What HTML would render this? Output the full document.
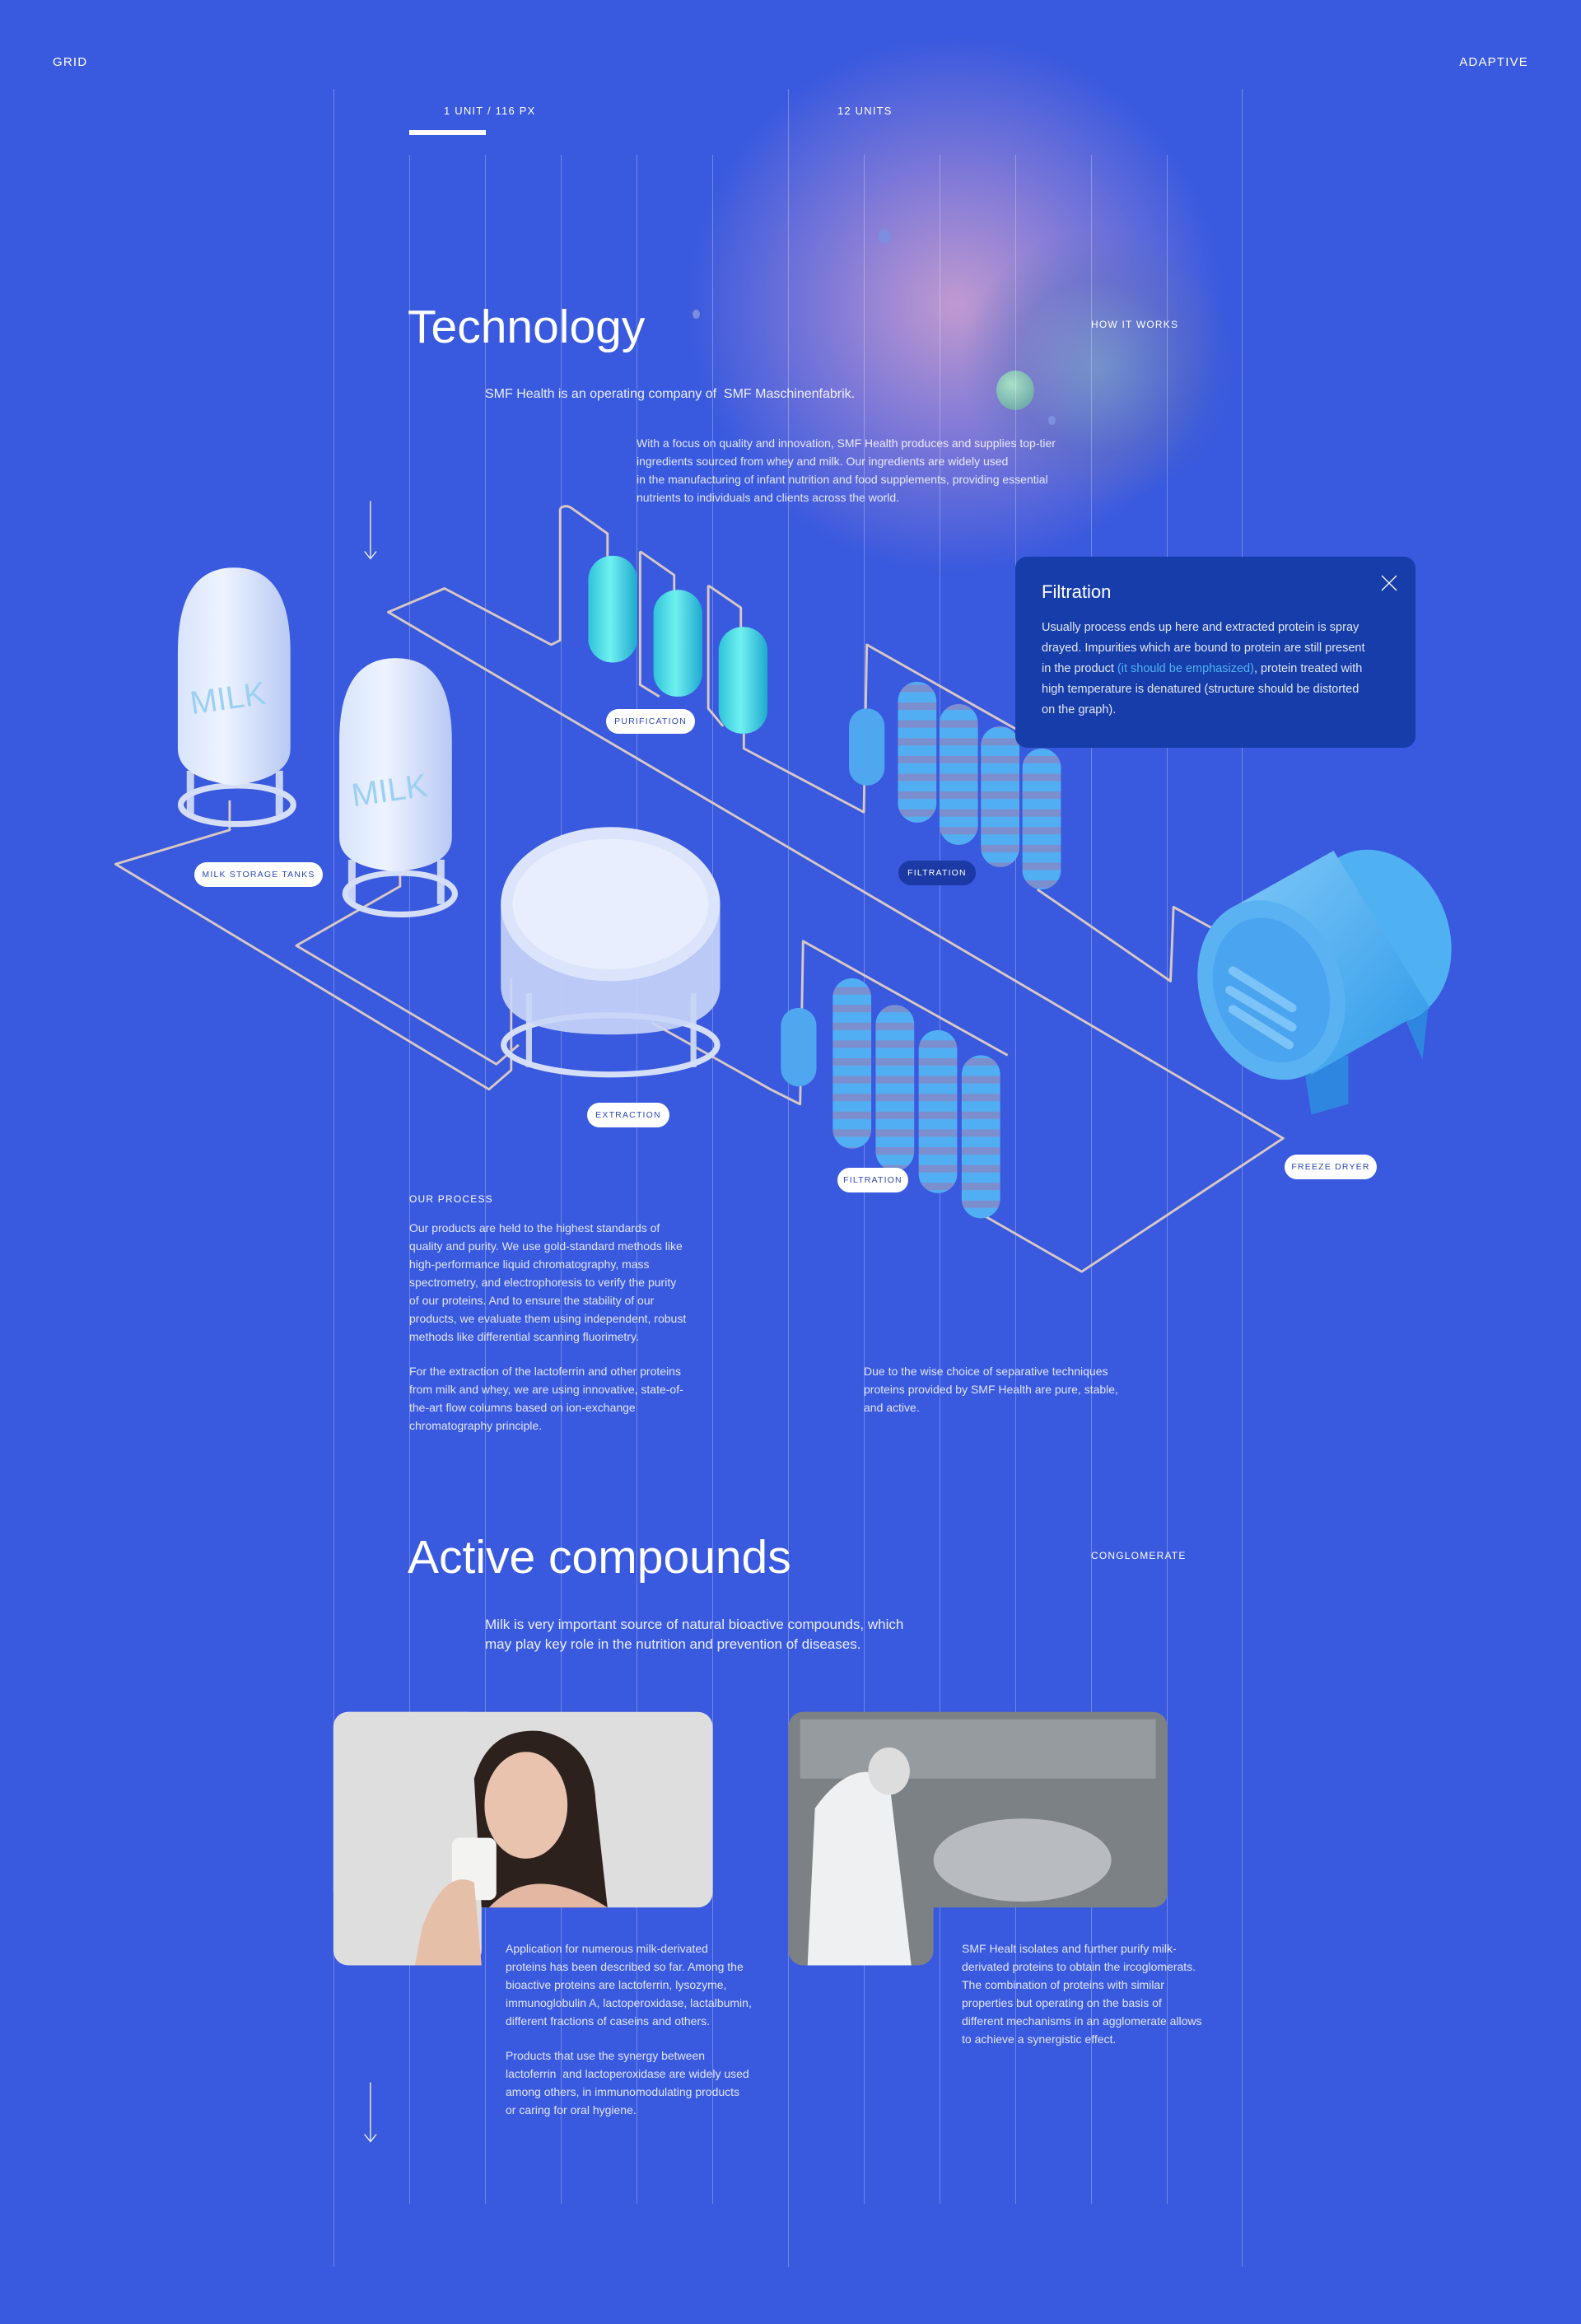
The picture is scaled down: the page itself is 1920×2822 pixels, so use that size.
<!DOCTYPE html>
<html><head><meta charset="utf-8"><style>
*{margin:0;padding:0;box-sizing:border-box}
body{width:1920px;height:2822px;background:#3959de;position:relative;overflow:hidden;font-family:"Liberation Sans",sans-serif;color:#fff}
.a{position:absolute;white-space:nowrap}
.gl{position:absolute;width:1px;background:rgba(255,255,255,0.28)}
.sm{font-size:13px;letter-spacing:1.2px}
.p{font-size:14px;line-height:22px;color:rgba(255,255,255,0.85)}
.pill{position:absolute;height:30px;border-radius:15px;background:#fff;color:#2d47b8;font-size:10.5px;letter-spacing:1.2px;display:flex;align-items:center;justify-content:center}
</style></head><body>
<div class="a" style="left:830px;top:40px;width:660px;height:660px;border-radius:50%;background:radial-gradient(circle,rgba(215,165,205,0.85) 0%,rgba(180,145,210,0.55) 35%,rgba(58,89,222,0) 70%)"></div>
<div class="a" style="left:1170px;top:280px;width:330px;height:330px;border-radius:50%;background:radial-gradient(circle,rgba(120,170,190,0.55) 0%,rgba(90,110,190,0.4) 45%,rgba(58,89,222,0) 72%)"></div>
<div class="a" style="left:1210px;top:450px;width:46px;height:48px;border-radius:50%;background:radial-gradient(circle at 40% 35%,#a8e0c8,#5f9aa0)"></div>
<div class="a" style="left:1066px;top:278px;width:16px;height:18px;border-radius:50%;background:#7d8de0"></div>
<div class="a" style="left:841px;top:376px;width:9px;height:11px;border-radius:50%;background:#7d8de0"></div>
<div class="a" style="left:1273px;top:505px;width:9px;height:11px;border-radius:50%;background:#7d8de0"></div>

<div class="gl" style="left:405px;top:108px;height:2645px"></div>
<div class="gl" style="left:957px;top:108px;height:2645px"></div>
<div class="gl" style="left:1508px;top:108px;height:2645px"></div>
<div class="gl" style="left:497px;top:188px;height:2488px"></div>
<div class="gl" style="left:589px;top:188px;height:2488px"></div>
<div class="gl" style="left:681px;top:188px;height:2488px"></div>
<div class="gl" style="left:773px;top:188px;height:2488px"></div>
<div class="gl" style="left:865px;top:188px;height:2488px"></div>
<div class="gl" style="left:1049px;top:188px;height:2488px"></div>
<div class="gl" style="left:1141px;top:188px;height:2488px"></div>
<div class="gl" style="left:1233px;top:188px;height:2488px"></div>
<div class="gl" style="left:1325px;top:188px;height:2488px"></div>
<div class="gl" style="left:1417px;top:188px;height:2488px"></div>

<div class="a sm" style="left:64px;top:67px;font-size:15px">GRID</div>
<div class="a sm" style="right:64px;top:67px;font-size:15px">ADAPTIVE</div>
<div class="a sm" style="left:539px;top:127px">1 UNIT / 116 PX</div>
<div class="a" style="left:497px;top:158px;width:93px;height:6px;background:#fff"></div>
<div class="a sm" style="left:1017px;top:127px">12 UNITS</div>
<div class="a sm" style="left:1325px;top:387px;font-size:12px">HOW IT WORKS</div>
<div class="a" style="left:495px;top:364px;font-size:57px">Technology</div>
<div class="a" style="left:589px;top:470px;font-size:16px;color:rgba(255,255,255,0.9)">SMF Health is an operating company of&nbsp; SMF Maschinenfabrik.</div>
<div class="a p" style="left:773px;top:527px">With a focus on quality and innovation, SMF Health produces and supplies top-tier<br>ingredients sourced from whey and milk. Our ingredients are widely used<br>in the manufacturing of infant nutrition and food supplements, providing essential<br>nutrients to individuals and clients across the world.</div>

<svg class="a" style="left:0;top:0" width="1920" height="2822" viewBox="0 0 1067 1568" preserveAspectRatio="none">
<defs>
<linearGradient id="tank" x1="0" x2="1"><stop offset="0" stop-color="#d8e4fb"/><stop offset=".4" stop-color="#eef3ff"/><stop offset="1" stop-color="#b9c9f3"/></linearGradient>
<linearGradient id="cap" x1="0" x2="1"><stop offset="0" stop-color="#2fc3d8"/><stop offset=".45" stop-color="#6ff0f0"/><stop offset="1" stop-color="#1fa9cf"/></linearGradient>
<pattern id="str" width="26" height="12" patternUnits="userSpaceOnUse"><rect width="26" height="12" fill="#52aef3"/><rect y="6" width="26" height="5" fill="#7b8fcf"/></pattern>
<linearGradient id="fd" x1="0" x2="1" y1="0" y2="1"><stop offset="0" stop-color="#7fc8f8"/><stop offset="1" stop-color="#2f9ae8"/></linearGradient>
</defs>
<line x1="250" y1="338" x2="250" y2="376" stroke="#fff" stroke-width=".7"/><path d="M246 372 L250 377 L254 372" fill="none" stroke="#fff" stroke-width=".7"/>
<line x1="250" y1="1405" x2="250" y2="1444" stroke="#fff" stroke-width=".7"/><path d="M246 1440 L250 1445 L254 1440" fill="none" stroke="#fff" stroke-width=".7"/>
<g fill="none" stroke="#d9c9c4" stroke-width="1.6" stroke-linejoin="round">
<path d="M378 343 L378 432 L372 435 L300 397 L262 413 L866 768 L730 858 L655 815"/>
<path d="M378 343 Q382 340 386 343 L410 360 L410 378"/>
<path d="M432 372 L432 462 L445 470"/><path d="M432 372 L455 388 L455 400"/>
<path d="M478 395 L478 478 L488 490"/><path d="M478 395 L500 410 L500 425"/>
<path d="M502 495 L502 505 L583 548 L585 435 L700 500"/>
<path d="M155 540 L155 560 L78 583 L330 735 L345 722 L345 660"/>
<path d="M270 585 L270 598 L200 638 L335 718 L350 705"/>
<path d="M440 690 L520 735 L540 745 L542 635 L680 712"/>
<path d="M700 600 L790 662 L792 612 L825 630"/>
<path d="M655 815 L650 780"/>
</g>
<g>
<rect x="126" y="520" width="5" height="30" fill="#c7d3f5"/><rect x="186" y="520" width="5" height="30" fill="#c7d3f5"/>
<ellipse cx="160" cy="543" rx="38" ry="13" fill="none" stroke="#d5def8" stroke-width="4"/>
<path d="M120 440 Q120 383 158 383 Q196 383 196 440 L196 505 Q196 525 158 530 Q120 525 120 505Z" fill="url(#tank)"/>
<text x="128" y="478" font-family="Liberation Sans" font-size="22" fill="#9cd0f3" transform="rotate(-8 157 470)">MILK</text>
<rect x="235" y="580" width="5" height="30" fill="#c7d3f5"/><rect x="295" y="580" width="5" height="30" fill="#c7d3f5"/>
<ellipse cx="270" cy="603" rx="37" ry="14" fill="none" stroke="#d5def8" stroke-width="4"/>
<path d="M229 500 Q229 444 267 444 Q305 444 305 500 L305 565 Q305 585 267 588 Q229 585 229 565Z" fill="url(#tank)"/>
<text x="237" y="540" font-family="Liberation Sans" font-size="22" fill="#9cd0f3" transform="rotate(-8 267 532)">MILK</text>
</g>
<rect x="355" y="670" width="4" height="50" fill="#c7d3f5"/><rect x="466" y="670" width="4" height="50" fill="#c7d3f5"/>
<ellipse cx="412" cy="705" rx="72" ry="20" fill="none" stroke="#d5def8" stroke-width="4"/>
<path d="M338 610 L338 665 Q338 698 412 698 Q486 698 486 665 L486 610Z" fill="#c9d5f7" opacity=".9"/>
<ellipse cx="412" cy="610" rx="74" ry="52" fill="#dbe4fb"/>
<ellipse cx="412" cy="610" rx="66" ry="44" fill="#e8eefd"/>
<rect x="397" y="375" width="33" height="72" rx="16" fill="url(#cap)"/>
<rect x="441" y="398" width="33" height="72" rx="16" fill="url(#cap)"/>
<rect x="485" y="423" width="33" height="72" rx="16" fill="url(#cap)"/>
<rect x="573" y="478" width="24" height="52" rx="12" fill="#4fa8ef"/>
<rect x="606" y="460" width="26" height="95" rx="13" fill="url(#str)"/>
<rect x="634" y="475" width="26" height="95" rx="13" fill="url(#str)"/>
<rect x="662" y="490" width="26" height="95" rx="13" fill="url(#str)"/>
<rect x="690" y="505" width="26" height="95" rx="13" fill="url(#str)"/>
<rect x="527" y="680" width="24" height="53" rx="12" fill="#4fa8ef"/>
<rect x="562" y="660" width="26" height="115" rx="13" fill="url(#str)"/>
<rect x="591" y="678" width="26" height="112" rx="13" fill="url(#str)"/>
<rect x="620" y="695" width="26" height="110" rx="13" fill="url(#str)"/>
<rect x="649" y="712" width="26" height="110" rx="13" fill="url(#str)"/>
<!-- freeze dryer -->
<path d="M880 720 L885 752 L910 745 L910 712Z" fill="#2f86e0"/>
<path d="M945 680 L960 715 L965 670Z" fill="#2f86e0"/>
<ellipse cx="930" cy="632" rx="48" ry="60" fill="#4fb0f2" transform="rotate(-20 930 632)"/>
<path d="M832 612 L900 574 L965 680 L885 725Z" fill="url(#fd)"/>
<ellipse cx="858" cy="668" rx="48" ry="62" fill="#5bb2f2" transform="rotate(-20 858 668)"/>
<ellipse cx="858" cy="668" rx="38" ry="50" fill="#4aa4ef" transform="rotate(-20 858 668)"/>
<g stroke="#7cc3f7" stroke-width="6" stroke-linecap="round"><line x1="832" y1="655" x2="872" y2="680"/><line x1="830" y1="668" x2="872" y2="693"/><line x1="832" y1="681" x2="870" y2="705"/></g>
<g>
<rect x="225" y="1155" width="256" height="132" rx="10" fill="#dedede"/>
<rect x="225" y="1155" width="100" height="171" rx="10" fill="#dedede"/>
<path d="M320 1200 Q330 1165 365 1168 Q400 1175 402 1215 L410 1287 L325 1287 Z" fill="#2c211d"/>
<ellipse cx="355" cy="1218" rx="28" ry="36" fill="#e9c3ae"/>
<path d="M330 1287 Q360 1255 410 1287Z" fill="#e3b7a2"/>
<rect x="305" y="1240" width="30" height="42" rx="5" fill="#f3f3f1"/>
<path d="M285 1300 Q300 1260 320 1270 L325 1326 L280 1326Z" fill="#e6bfa9"/>
</g>
<g>
<rect x="532" y="1155" width="256" height="132" rx="10" fill="#7c8185"/>
<rect x="532" y="1155" width="98" height="171" rx="10" fill="#7c8185"/>
<rect x="540" y="1160" width="240" height="40" fill="#a7adb1" opacity=".6"/>
<ellipse cx="690" cy="1255" rx="60" ry="28" fill="#b8bcc0"/>
<path d="M550 1220 Q575 1185 600 1200 L615 1326 L545 1326Z" fill="#eef0f2"/>
<ellipse cx="600" cy="1195" rx="14" ry="16" fill="#ddd"/>
</g>
</svg>

<div class="pill" style="left:736px;top:861px;width:108px">PURIFICATION</div>
<div class="pill" style="left:236px;top:1047px;width:156px">MILK STORAGE TANKS</div>
<div class="pill" style="left:1091px;top:1045px;width:94px;background:#1b3aa6;color:#fff">FILTRATION</div>
<div class="pill" style="left:713px;top:1339px;width:100px">EXTRACTION</div>
<div class="pill" style="left:1017px;top:1418px;width:86px">FILTRATION</div>
<div class="pill" style="left:1560px;top:1402px;width:112px">FREEZE DRYER</div>

<div class="a" style="left:1233px;top:676px;width:486px;height:232px;background:#163da9;border-radius:14px"></div>
<div class="a" style="left:1265px;top:706px;font-size:22px">Filtration</div>
<svg class="a" style="left:1677px;top:698px" width="20" height="20"><path d="M1 1 L19 19 M19 1 L1 19" stroke="#fff" stroke-width="1.3"/></svg>
<div class="a" style="left:1265px;top:750px;font-size:14.5px;line-height:25px;color:rgba(255,255,255,0.88)">Usually process ends up here and extracted protein is spray<br>drayed. Impurities which are bound to protein are still present<br>in the product <span style="color:#4fb3f5">(it should be emphasized)</span>, protein treated with<br>high temperature is denatured (structure should be distorted<br>on the graph).</div>

<div class="a sm" style="left:497px;top:1449px;font-size:12px">OUR PROCESS</div>
<div class="a p" style="left:497px;top:1480px">Our products are held to the highest standards of<br>quality and purity. We use gold-standard methods like<br>high-performance liquid chromatography, mass<br>spectrometry, and electrophoresis to verify the purity<br>of our proteins. And to ensure the stability of our<br>products, we evaluate them using independent, robust<br>methods like differential scanning fluorimetry.</div>
<div class="a p" style="left:497px;top:1654px">For the extraction of the lactoferrin and other proteins<br>from milk and whey, we are using innovative, state-of-<br>the-art flow columns based on ion-exchange<br>chromatography principle.</div>
<div class="a p" style="left:1049px;top:1654px">Due to the wise choice of separative techniques<br>proteins provided by SMF Health are pure, stable,<br>and active.</div>

<div class="a" style="left:495px;top:1858px;font-size:57px">Active compounds</div>
<div class="a sm" style="left:1325px;top:1882px;font-size:12px">CONGLOMERATE</div>
<div class="a" style="left:589px;top:1961px;font-size:17px;line-height:24px;color:rgba(255,255,255,0.9)">Milk is very important source of natural bioactive compounds, which<br>may play key role in the nutrition and prevention of diseases.</div>

<div class="a p" style="left:614px;top:2355px">Application for numerous milk-derivated<br>proteins has been described so far. Among the<br>bioactive proteins are lactoferrin, lysozyme,<br>immunoglobulin A, lactoperoxidase, lactalbumin,<br>different fractions of caseins and others.</div>
<div class="a p" style="left:614px;top:2485px">Products that use the synergy between<br>lactoferrin&nbsp; and lactoperoxidase are widely used<br>among others, in immunomodulating products<br>or caring for oral hygiene.</div>
<div class="a p" style="left:1168px;top:2355px">SMF Healt isolates and further purify milk-<br>derivated proteins to obtain the ircoglomerats.<br>The combination of proteins with similar<br>properties but operating on the basis of<br>different mechanisms in an agglomerate allows<br>to achieve a synergistic effect.</div>
</body></html>
